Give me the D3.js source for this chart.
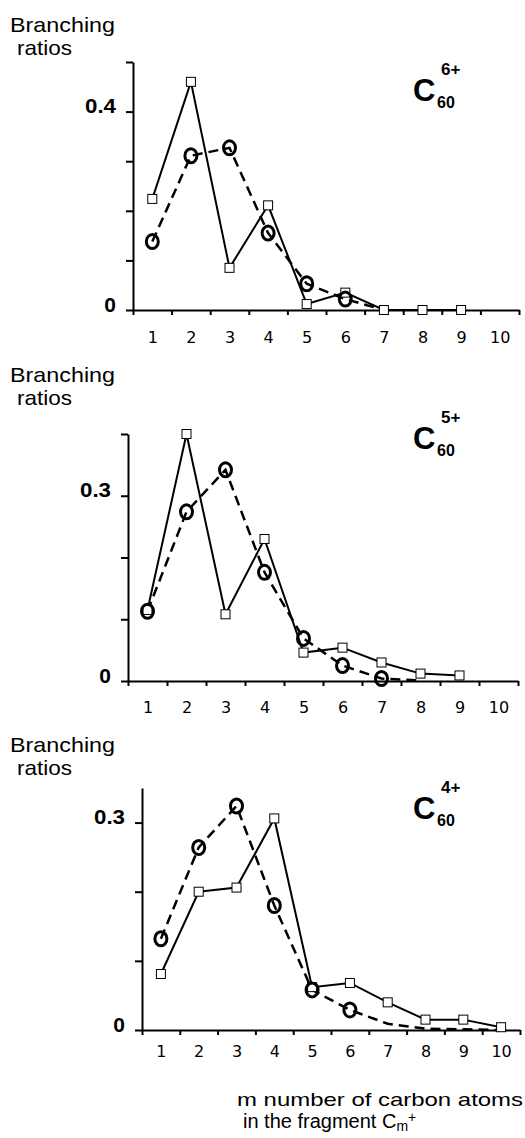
<!DOCTYPE html>
<html>
<head>
<meta charset="utf-8">
<script src="https://cdn.jsdelivr.net/npm/d3@7"></script>
<style>
  body { margin: 0; background: #fff; }
  svg { display: block; }
</style>
</head>
<body>
<svg id="chart" width="525" height="1138"></svg>
<script>
// ---------- data ---------- //

// m = number of carbon atoms in the fragment
var xLabels = [1, 2, 3, 4, 5, 6, 7, 8, 9, 10];

// C60 6+  (squares = solid line, circles = dashed line)
var squares6 = [0.224, 0.46, 0.085, 0.211, 0.012, 0.035, 0.0, 0.0, 0.0];
var circles6 = [0.138, 0.311, 0.327, 0.155, 0.053, 0.022];
var tail6 = [0.0];
var yTicks6 = [0, 0.1, 0.2, 0.3, 0.4, 0.5];
var yLabels6 = [0, 0.4];

// C60 5+
var squares5 = [0.115, 0.4, 0.108, 0.23, 0.046, 0.054, 0.03, 0.012, 0.009];
var circles5 = [0.113, 0.274, 0.342, 0.176, 0.069, 0.025, 0.004];
var tail5 = [0.001];
var yTicks5 = [0, 0.1, 0.2, 0.3, 0.4];
var yLabels5 = [0, 0.3];

// C60 4+
var squares4 = [0.081, 0.2, 0.206, 0.306, 0.062, 0.068, 0.04, 0.015, 0.015, 0.004];
var circles4 = [0.132, 0.264, 0.324, 0.18, 0.058, 0.029];
var tail4 = [0.009, 0.002, 0.001, 0.0];
var yTicks4 = [0, 0.1, 0.2, 0.3];
var yLabels4 = [0, 0.3];

// ---------- layout ---------- //

var panels = [
  { sq: squares6, ci: circles6, tail: tail6, ticks: yTicks6, labels: yLabels6, yMax: 0.5,
    charge: "6+", left: 133, right: 519, top: 62, base: 310,
    titleY: 32, numY: 343, cY: 101 },
  { sq: squares5, ci: circles5, tail: tail5, ticks: yTicks5, labels: yLabels5, yMax: 0.4,
    charge: "5+", left: 128, right: 518, top: 434, base: 681,
    titleY: 382, numY: 713, cY: 449 },
  { sq: squares4, ci: circles4, tail: tail4, ticks: yTicks4, labels: yLabels4, yMax: 0.35,
    charge: "4+", left: 142, right: 520, top: 788, base: 1030,
    titleY: 752, numY: 1057, cY: 819 }
];

var svg = d3.select("#chart");
var font = "'Liberation Sans', Arial, Helvetica, sans-serif";

panels.forEach(function(p) {

  var x = d3.scaleLinear().domain([0.5, 10.5]).range([p.left, p.right]);
  var y = d3.scaleLinear().domain([0, p.yMax]).range([p.base, p.top]);

  var g = svg.append("g");

  // --- y title --- //
  g.append("text")
    .attr("x", 10).attr("y", p.titleY)
    .attr("font-family", font).attr("font-size", "21px")
    .attr("textLength", 105).attr("lengthAdjust", "spacingAndGlyphs")
    .text("Branching");
  g.append("text")
    .attr("x", 17).attr("y", p.titleY + 23)
    .attr("font-family", font).attr("font-size", "21px")
    .attr("textLength", 55).attr("lengthAdjust", "spacingAndGlyphs")
    .text("ratios");

  // --- x axis: ticks between the integers --- //
  var xAxis = g.append("g")
    .attr("transform", "translate(0," + p.base + ")")
    .call(d3.axisBottom(x)
      .tickValues(d3.range(0.5, 11, 1))
      .tickSize(5)
      .tickSizeOuter(0)
      .tickFormat(""));
  xAxis.select(".domain").attr("stroke-width", 2);
  xAxis.selectAll(".tick line").attr("stroke-width", 2);

  // numbers 1..10
  var xNums = g.append("g")
    .attr("transform", "translate(0," + p.base + ")")
    .call(d3.axisBottom(x).tickValues(xLabels).tickSize(0));
  xNums.select(".domain").remove();
  xNums.selectAll("text")
    .attr("y", p.numY - p.base).attr("dy", 0)
    .attr("font-family", "'DejaVu Sans', Verdana, sans-serif")
    .attr("font-size", "16px")
    .attr("fill", "#000");

  // --- y axis --- //
  var yAxis = g.append("g")
    .attr("transform", "translate(" + p.left + ",0)")
    .call(d3.axisLeft(y)
      .tickValues(p.ticks)
      .tickSize(7)
      .tickSizeOuter(0)
      .tickPadding(10)
      .tickFormat(function(d) { return p.labels.indexOf(d) >= 0 ? String(d) : ""; }));
  yAxis.select(".domain").attr("stroke-width", 2);
  yAxis.selectAll(".tick line").attr("stroke-width", 2);
  yAxis.selectAll("text")
    .attr("dy", "0.05em")
    .attr("font-family", font)
    .attr("font-weight", "bold")
    .attr("font-size", "21px")
    .attr("fill", "#000")
    .each(function(d) {
      if (String(d).length > 1) {
        d3.select(this).attr("textLength", 31).attr("lengthAdjust", "spacingAndGlyphs");
      }
    });

  // --- lines --- //
  var line = d3.line()
    .x(function(d, i) { return x(i + 1); })
    .y(function(d) { return y(d); });

  g.append("path")
    .attr("d", line(p.ci.concat(p.tail)))
    .attr("fill", "none")
    .attr("stroke", "#000")
    .attr("stroke-width", 2.5)
    .attr("stroke-dasharray", "10,6");

  g.append("path")
    .attr("d", line(p.sq))
    .attr("fill", "none")
    .attr("stroke", "#000")
    .attr("stroke-width", 2);

  // square markers
  g.selectAll("rect.sq")
    .data(p.sq)
    .enter().append("rect")
    .attr("class", "sq")
    .attr("x", function(d, i) { return x(i + 1) - 4.5; })
    .attr("y", function(d) { return y(d) - 4.5; })
    .attr("width", 9).attr("height", 9)
    .attr("fill", "#fff")
    .attr("stroke", "#000")
    .attr("stroke-width", 1);

  // circle markers
  g.selectAll("ellipse.ci")
    .data(p.ci)
    .enter().append("ellipse")
    .attr("class", "ci")
    .attr("cx", function(d, i) { return x(i + 1); })
    .attr("cy", function(d) { return y(d); })
    .attr("rx", 6).attr("ry", 7)
    .attr("fill", "none")
    .attr("stroke", "#000")
    .attr("stroke-width", 3);

  // --- C60 label --- //
  g.append("text")
    .attr("x", 413).attr("y", p.cY)
    .attr("font-family", font).attr("font-weight", "bold").attr("font-size", "31px")
    .text("C");
  g.append("text")
    .attr("x", 441).attr("y", p.cY - 26)
    .attr("font-family", font).attr("font-weight", "bold").attr("font-size", "17px")
    .text(p.charge);
  g.append("text")
    .attr("x", 437).attr("y", p.cY + 7)
    .attr("font-family", font).attr("font-weight", "bold").attr("font-size", "16px")
    .text("60");
});

// ---------- x caption ---------- //
svg.append("text")
  .attr("x", 237).attr("y", 1106)
  .attr("font-family", font).attr("font-size", "19px")
  .attr("textLength", 286).attr("lengthAdjust", "spacingAndGlyphs")
  .text("m number of carbon atoms");

var cap2 = svg.append("text")
  .attr("x", 243).attr("y", 1128)
  .attr("font-family", font).attr("font-size", "20px");
cap2.append("tspan").text("in the fragment C");
cap2.append("tspan").attr("font-size", "14px").attr("dy", 3).text("m");
cap2.append("tspan").attr("font-size", "14px").attr("dy", -9).text("+");
</script>
</body>
</html>
